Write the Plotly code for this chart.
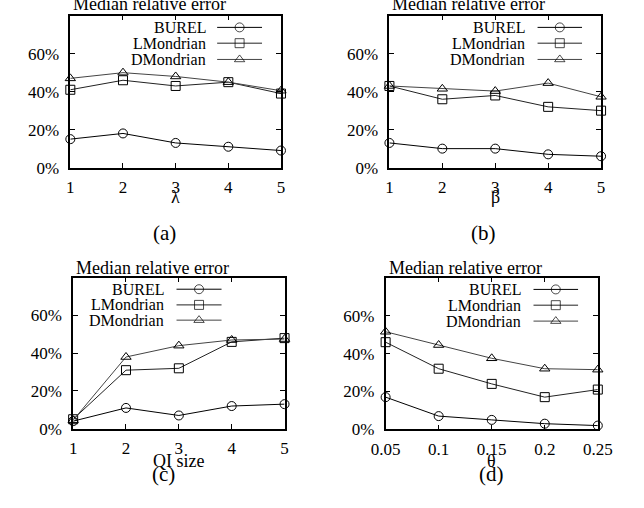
import plotly.graph_objects as go

# ---- data ----
series_names = ["BUREL", "LMondrian", "DMondrian"]

x_a = [1, 2, 3, 4, 5]
a_burel = [15, 18, 13, 11, 9]
a_lmond = [41, 46, 43, 45, 39]
a_dmond = [47, 50, 48, 45, 40.5]

x_b = [1, 2, 3, 4, 5]
b_burel = [13, 10, 10, 7, 6]
b_lmond = [43, 36, 38, 32, 30]
b_dmond = [43, 41.5, 40.3, 44.5, 37.3]

x_c = [1, 2, 3, 4, 5]
c_burel = [4, 11, 7, 12, 13]
c_lmond = [5, 31, 32, 46, 48]
c_dmond = [4.5, 38, 44, 47, 47.5]

x_d = [0.05, 0.1, 0.15, 0.2, 0.25]
d_burel = [17, 7, 5, 3, 2]
d_lmond = [46, 32, 24, 17, 21]
d_dmond = [51.5, 44.5, 37.5, 32, 31.5]

y_ticks = [0, 20, 40, 60]
y_tick_labels = ["0%", "20%", "40%", "60%"]

panel_xlabels = ["λ", "β", "QI size", "θ"]
panel_captions = ["(a)", "(b)", "(c)", "(d)"]
panel_title = "Median relative error"

# ---- styling ----
FONT = "Liberation Serif, Times New Roman, serif"
colors = ["#000000", "#222222", "#444444"]
symbols = ["circle-open", "square-open", "triangle-up-open"]

panels = [
    dict(x=x_a, ys=[a_burel, a_lmond, a_dmond], xdom=[0.0901, 0.4332], ydom=[0.6634, 0.9685],
         xr=[1, 5], xt=x_a, xtt=["1", "2", "3", "4", "5"],
         leg_txt=0.652, leg_l=0.697, leg_r=0.91, leg_rows=[0.923, 0.819, 0.712],
         lab=(0.2620, 0.604), cap=(0.2433, 0.5315), title=(0.0911, 0.991)),
    dict(x=x_b, ys=[b_burel, b_lmond, b_dmond], xdom=[0.6098, 0.9545], ydom=[0.6634, 0.9685],
         xr=[1, 5], xt=x_b, xtt=["1", "2", "3", "4", "5"],
         leg_txt=0.649, leg_l=0.70, leg_r=0.91, leg_rows=[0.923, 0.819, 0.712],
         lab=(0.7821, 0.604), cap=(0.7635, 0.5315), title=(0.6113, 0.991)),
    dict(x=x_c, ys=[c_burel, c_lmond, c_dmond], xdom=[0.0947, 0.4390], ydom=[0.1392, 0.4423],
         xr=[1, 5], xt=x_c, xtt=["1", "2", "3", "4", "5"],
         leg_txt=0.439, leg_l=0.489, leg_r=0.702, leg_rows=[0.924, 0.820, 0.719],
         lab=(0.2668, 0.0735), cap=(0.2422, 0.0472), title=(0.0958, 0.4626)),
    dict(x=x_d, ys=[d_burel, d_lmond, d_dmond], xdom=[0.6036, 0.9492], ydom=[0.1378, 0.4423],
         xr=[0.05, 0.25], xt=x_d, xtt=["0.05", "0.1", "0.15", "0.2", "0.25"],
         leg_txt=0.648, leg_l=0.697, leg_r=0.907, leg_rows=[0.923, 0.819, 0.714],
         lab=(0.7764, 0.0740), cap=(0.7753, 0.0472), title=(0.6056, 0.4626)),
]

fig = go.Figure()
annotations = []
layout = dict(
    width=644, height=508, autosize=False, margin=dict(l=0, r=0, t=0, b=0, pad=0),
    paper_bgcolor="white", plot_bgcolor="white", showlegend=False,
    font=dict(family=FONT, size=16, color="black"),
)

for i, p in enumerate(panels):
    n = i + 1
    ln = i + 5
    xa = "x" if n == 1 else f"x{n}"
    ya = "y" if n == 1 else f"y{n}"
    for k in range(3):
        fig.add_trace(go.Scatter(
            x=p["x"], y=p["ys"][k], mode="lines+markers", xaxis=xa, yaxis=ya,
            line=dict(color=colors[k], width=1),
            marker=dict(symbol=symbols[k], size=9, color="black", line=dict(width=1, color="black")),
            cliponaxis=False, name=series_names[k]))
        # legend sample (gnuplot style: text then line sample)
        ry = p["leg_rows"][k]
        mid = (p["leg_l"] + p["leg_r"]) / 2
        fig.add_trace(go.Scatter(
            x=[p["leg_l"], mid, p["leg_r"]], y=[ry, ry, ry], mode="lines+markers",
            xaxis=f"x{ln}", yaxis=f"y{ln}",
            line=dict(color=colors[k], width=1),
            marker=dict(symbol=symbols[k], size=[0, 9, 0], color="black", line=dict(width=1, color="black")),
            cliponaxis=False, hoverinfo="skip"))
        annotations.append(dict(
            x=p["leg_txt"], y=ry, xref=f"x{ln}", yref=f"y{ln}", text=series_names[k],
            showarrow=False, xanchor="right", yanchor="middle",
            font=dict(family=FONT, size=16, color="black")))
    axkey = "xaxis" if n == 1 else f"xaxis{n}"
    aykey = "yaxis" if n == 1 else f"yaxis{n}"
    layout[axkey] = dict(
        domain=p["xdom"], range=p["xr"], anchor=ya, tickmode="array",
        tickvals=p["xt"], ticktext=p["xtt"], ticks="inside", ticklen=5, tickcolor="black",
        showline=True, linecolor="black", linewidth=1.5, mirror="ticks", showgrid=False,
        zeroline=False, tickfont=dict(family=FONT, size=17), ticklabelstandoff=3, fixedrange=True)
    layout[aykey] = dict(
        domain=p["ydom"], range=[0, 80], anchor=xa, tickmode="array",
        tickvals=y_ticks, ticktext=y_tick_labels, ticks="inside", ticklen=5, tickcolor="black",
        showline=True, linecolor="black", linewidth=1.5, mirror="ticks", showgrid=False,
        zeroline=False, tickfont=dict(family=FONT, size=17), ticklabelstandoff=6, fixedrange=True)
    layout[f"xaxis{ln}"] = dict(overlaying=xa, range=[0, 1], visible=False, fixedrange=True, anchor=f"y{ln}")
    layout[f"yaxis{ln}"] = dict(overlaying=ya, range=[0, 1], visible=False, fixedrange=True, anchor=f"x{ln}")

    annotations.append(dict(x=p["title"][0], y=p["title"][1], xref="paper", yref="paper",
                            text=panel_title, showarrow=False, xanchor="left", yanchor="middle",
                            font=dict(family=FONT, size=18)))
    annotations.append(dict(x=p["lab"][0], y=p["lab"][1], xref="paper", yref="paper",
                            text=panel_xlabels[i], showarrow=False, xanchor="center", yanchor="middle",
                            font=dict(family=FONT, size=18)))
    annotations.append(dict(x=p["cap"][0], y=p["cap"][1], xref="paper", yref="paper",
                            text=panel_captions[i], showarrow=False, xanchor="center", yanchor="middle",
                            font=dict(family=FONT, size=21)))

layout["annotations"] = annotations
fig.update_layout(**layout)
fig.write_html("out.html", config={"displayModeBar": False, "responsive": False},
               post_script="document.body.style.margin='0';document.body.style.overflow='hidden';")
